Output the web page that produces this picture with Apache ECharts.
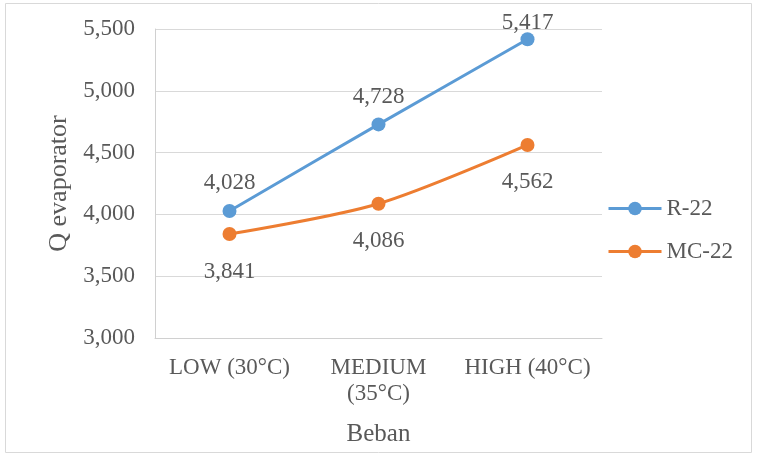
<!DOCTYPE html>
<html><head><meta charset="utf-8">
<script src="https://cdn.jsdelivr.net/npm/echarts@6/dist/echarts.min.js"></script>
<style>html,body{margin:0;padding:0;background:#fff}#c{width:757px;height:455px}</style>
</head><body><div id="c"></div>
<script>
const categories = ['LOW (30°C)', 'MEDIUM\n(35°C)', 'HIGH (40°C)'];
const r22 = [4028, 4728, 5417];
const mc22 = [3841, 4086, 4562];
const seriesNames = ['R-22', 'MC-22'];
const yTicks = {min: 3000, max: 5500, interval: 500};

const font = 'Liberation Serif, Times New Roman, serif';
const txt = '#595959';
const chart = echarts.init(document.getElementById('c'), null, {renderer: 'canvas'});
function fmt(v){return v.toLocaleString('en-US');}
chart.setOption({
  animation: false,
  textStyle: {fontFamily: font},
  graphic: [{type: 'rect', shape: {x: 5.5, y: 3.5, width: 746, height: 449}, style: {fill: 'none', stroke: '#D9D9D9', lineWidth: 1}}],
  grid: {left: 155, right: 155, top: 29, bottom: 117},
  legend: {
    orient: 'vertical', left: 607, top: 197, padding: 0, itemWidth: 53, itemHeight: 17, itemGap: 20,
    lineStyle: {width: 3},
    textStyle: {fontFamily: font, fontSize: 23, color: txt},
    data: seriesNames
  },
  xAxis: {
    type: 'category', data: categories, boundaryGap: true,
    axisLine: {lineStyle: {color: '#D0D0D0', width: 1}},
    axisTick: {show: false},
    axisLabel: {fontFamily: font, fontSize: 23, color: txt, margin: 17, lineHeight: 26, interval: 0},
    name: 'Beban', nameLocation: 'middle', nameGap: 84,
    nameTextStyle: {fontFamily: font, fontSize: 25, color: txt}
  },
  yAxis: {
    type: 'value', min: yTicks.min, max: yTicks.max, interval: yTicks.interval,
    axisLine: {show: true, lineStyle: {color: '#D0D0D0', width: 1}},
    splitLine: {lineStyle: {color: '#D9D9D9', width: 1}},
    axisLabel: {fontFamily: font, fontSize: 23, color: txt, margin: 20, formatter: fmt},
    name: 'Q evaporator', nameLocation: 'middle', nameGap: 81, nameRotate: 90,
    nameTextStyle: {fontFamily: font, fontSize: 26, color: txt}
  },
  series: [
    {
      name: seriesNames[0], type: 'line', data: r22.map((v, i) => i === 2 ? {value: v, label: {distance: 0, offset: [0, 2]}} : v),
      smooth: 0.3, symbol: 'circle', symbolSize: 14,
      lineStyle: {color: '#5B9BD5', width: 3}, itemStyle: {color: '#5B9BD5'},
      label: {show: true, position: 'top', distance: 9, fontFamily: font, fontSize: 23, color: txt, formatter: p => fmt(p.value)}
    },
    {
      name: seriesNames[1], type: 'line', data: mc22,
      smooth: 0.3, symbol: 'circle', symbolSize: 14,
      lineStyle: {color: '#ED7D31', width: 3}, itemStyle: {color: '#ED7D31'},
      label: {show: true, position: 'bottom', distance: 19, fontFamily: font, fontSize: 23, color: txt, formatter: p => fmt(p.value)}
    }
  ]
});
</script></body></html>
